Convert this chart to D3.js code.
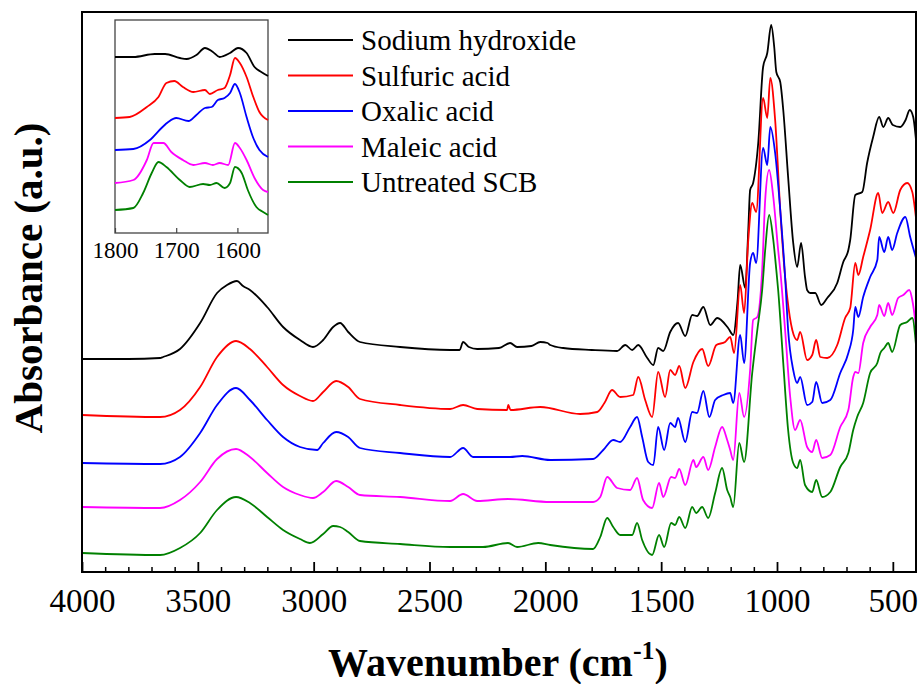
<!DOCTYPE html>
<html><head><meta charset="utf-8">
<script src="https://cdn.jsdelivr.net/npm/d3@7/dist/d3.min.js"></script>
<style>body{margin:0;background:#fff}svg{display:block}</style>
</head><body><svg id="c" width="921" height="684"></svg>
<script>
// ---------- DATA ----------
const seriesNames = ["Sodium hydroxide","Sulfuric acid","Oxalic acid","Maleic acid","Untreated SCB"];
const seriesColors = ["#000000","#ff0000","#0000ff","#ff00ff","#008000"];
const xTicksMajor = [4000,3500,3000,2500,2000,1500,1000,500];
const insetTicks = [1800,1700,1600];

const sodiumHydroxide = [[4000,21.3],[3800,21.3],[3663,21.4],[3650,21.5],[3577,22.3],[3490,24.9],[3417,27.9],[3374,28.7],[3331,29.1],[3305,28.6],[3275,28.2],[3201,26.5],[3132,24.5],[3059,23.2],[3003,22.5],[2959,23.2],[2916,24.5],[2886,24.9],[2851,24.0],[2800,23.0],[2627,22.5],[2411,22.2],[2370,22.2],[2355,23.0],[2330,22.5],[2294,22.3],[2200,22.4],[2152,22.9],[2122,22.5],[2060,22.6],[2022,23.0],[1990,22.9],[1979,22.7],[1923,22.4],[1800,22.2],[1690,22.1],[1655,22.7],[1625,22.2],[1599,22.7],[1560,21.4],[1534,20.7],[1513,22.4],[1491,22.1],[1461,24.0],[1427,24.9],[1396,23.6],[1366,25.7],[1345,25.6],[1318,26.5],[1288,24.7],[1258,25.4],[1211,24.4],[1189,23.7],[1170,27.2],[1159,30.7],[1137,28.4],[1124,34.2],[1116,38.2],[1103,38.9],[1081,42.9],[1060,50.5],[1042,51.9],[1025,54.7],[1012,52.5],[1003,50.0],[986,49.0],[973,46.2],[952,39.5],[930,32.9],[913,30.5],[896,32.9],[879,29.5],[870,28.2],[857,27.9],[835,27.9],[809,26.7],[783,27.4],[740,28.9],[714,31.0],[692,32.2],[684,33.2],[662,37.7],[632,38.0],[611,40.9],[585,43.5],[559,45.5],[541,44.5],[520,45.4],[500,44.7],[468,44.5],[445,45.2],[427,46.2],[412,45.5],[400,43.2]];

const sulfuricAcid = [[4000,15.7],[3663,15.5],[3577,16.2],[3490,18.5],[3417,21.5],[3335,23.1],[3275,22.3],[3201,20.5],[3132,18.7],[3059,17.6],[3003,17.1],[2959,18.0],[2903,19.1],[2851,18.5],[2800,17.3],[2627,16.7],[2411,16.3],[2355,16.7],[2294,16.3],[2165,16.2],[2160,16.7],[2150,16.2],[2022,16.5],[1850,15.8],[1776,16.0],[1745,16.9],[1712,18.2],[1677,17.5],[1621,17.7],[1599,19.5],[1569,17.2],[1539,15.5],[1513,20.0],[1483,17.5],[1461,20.2],[1440,19.7],[1422,20.6],[1396,18.4],[1361,21.0],[1323,22.3],[1297,20.6],[1262,22.7],[1224,23.0],[1202,23.5],[1185,21.9],[1159,28.7],[1142,25.9],[1124,33.2],[1107,36.9],[1090,36.0],[1060,47.4],[1042,45.4],[1029,49.4],[1008,45.2],[986,36.2],[965,29.5],[956,27.5],[934,24.2],[913,23.2],[900,24.0],[870,21.2],[848,21.7],[831,23.2],[813,21.5],[783,21.4],[740,22.7],[706,25.4],[684,26.4],[662,30.9],[649,29.7],[628,31.5],[598,34.2],[563,37.9],[546,35.9],[520,37.0],[498,35.9],[468,38.2],[438,38.9],[416,38.0],[400,35.4]];

const oxalicAcid = [[4000,10.9],[3663,10.8],[3577,11.5],[3490,13.9],[3417,16.7],[3335,18.4],[3275,17.2],[3201,15.2],[3132,13.5],[3059,12.5],[2985,12.2],[2959,12.9],[2903,14.0],[2851,13.5],[2800,12.4],[2627,11.9],[2411,11.5],[2355,12.4],[2312,11.5],[2152,11.5],[2100,11.6],[1979,11.2],[1794,11.3],[1750,12.2],[1707,13.2],[1677,13.0],[1634,14.5],[1604,15.5],[1582,13.5],[1556,11.0],[1534,10.7],[1513,14.5],[1487,12.2],[1461,14.9],[1440,14.5],[1427,15.4],[1396,13.0],[1366,16.0],[1345,15.9],[1318,18.1],[1292,15.5],[1267,17.2],[1232,17.7],[1202,17.9],[1189,16.9],[1159,23.7],[1142,20.9],[1116,30.9],[1103,31.9],[1090,30.9],[1060,42.4],[1042,40.7],[1029,44.5],[1008,41.9],[986,36.2],[965,29.5],[952,24.2],[930,20.2],[913,18.9],[900,19.5],[870,16.7],[848,17.0],[831,19.0],[805,16.9],[770,17.2],[727,19.9],[692,21.9],[671,24.2],[662,26.5],[649,25.5],[628,27.5],[598,29.5],[567,31.2],[559,33.5],[537,32.0],[520,33.5],[503,32.2],[481,33.9],[446,35.5],[425,33.5],[400,31.4]];

const maleicAcid = [[4000,6.5],[3663,6.4],[3577,7.2],[3490,9.0],[3417,11.3],[3335,12.3],[3275,11.5],[3201,9.9],[3132,8.5],[3059,7.7],[3003,7.4],[2959,8.0],[2903,9.1],[2851,8.5],[2800,7.7],[2627,7.5],[2411,7.1],[2355,7.8],[2294,7.1],[2161,7.3],[1979,7.0],[1794,7.0],[1763,7.5],[1733,9.5],[1690,8.4],[1634,8.2],[1604,9.4],[1578,7.2],[1539,6.4],[1509,8.9],[1491,7.5],[1457,9.5],[1440,9.4],[1422,10.3],[1396,8.7],[1361,11.2],[1349,10.5],[1318,11.5],[1297,10.2],[1267,12.5],[1237,14.5],[1215,13.2],[1202,12.2],[1189,11.2],[1163,17.9],[1142,15.5],[1116,20.2],[1103,25.2],[1085,25.5],[1064,30.2],[1051,37.2],[1034,40.2],[1016,37.5],[995,32.2],[986,30.2],[965,24.2],[943,17.5],[922,14.2],[900,15.2],[870,12.5],[848,12.0],[831,13.2],[805,11.4],[770,11.7],[727,14.5],[692,16.2],[671,19.5],[662,20.0],[649,19.9],[628,22.9],[598,24.5],[567,25.7],[559,26.7],[537,25.6],[520,26.9],[503,25.7],[477,27.4],[455,27.7],[429,28.2],[416,27.2],[400,24.5]];

const untreatedSCB = [[4000,1.9],[3663,1.7],[3577,2.4],[3490,3.9],[3417,6.2],[3335,7.5],[3275,6.9],[3201,5.5],[3132,4.2],[3059,3.3],[3016,2.9],[2959,3.8],[2916,4.6],[2886,4.5],[2851,4.0],[2800,3.1],[2627,2.8],[2411,2.5],[2269,2.5],[2161,2.9],[2122,2.5],[2031,2.9],[1979,2.7],[1794,2.3],[1763,3.5],[1733,5.4],[1707,4.5],[1677,3.7],[1625,3.7],[1604,4.9],[1582,3.2],[1539,1.7],[1509,3.7],[1487,2.5],[1457,4.9],[1440,4.7],[1422,5.5],[1396,4.4],[1366,6.5],[1349,5.9],[1323,6.5],[1297,5.4],[1267,7.9],[1237,10.4],[1215,8.2],[1202,7.5],[1189,6.5],[1163,12.9],[1142,11.0],[1107,19.9],[1085,24.2],[1064,28.2],[1051,32.2],[1034,35.7],[1016,33.2],[1003,30.2],[995,28.2],[973,20.9],[952,14.2],[930,10.9],[913,10.4],[900,11.2],[879,8.7],[848,8.0],[831,9.2],[805,7.5],[770,8.0],[727,10.5],[692,11.9],[671,14.2],[654,15.5],[628,16.9],[598,19.9],[567,20.9],[554,21.9],[537,22.4],[520,22.9],[503,22.0],[468,24.7],[438,25.0],[416,25.4],[400,22.7]];

// inset (1800-1550 cm-1), separately offset
const insetSodium = [[1800,17.6],[1770,17.6],[1735,17.9],[1718,17.9],[1694,17.5],[1683,17.4],[1667,17.8],[1653,18.5],[1640,18.1],[1629,17.6],[1612,18.0],[1599,18.5],[1585,18.0],[1572,16.6],[1561,16.1],[1550,15.7]];
const insetSulfuric = [[1800,11.5],[1776,11.6],[1748,12.6],[1729,13.6],[1716,15.0],[1703,15.2],[1689,14.6],[1672,14.1],[1653,14.3],[1645,13.9],[1632,14.3],[1621,14.5],[1612,15.8],[1604,17.5],[1596,17.0],[1585,15.6],[1574,13.6],[1564,12.1],[1550,11.3]];
const insetOxalic = [[1800,8.3],[1770,8.4],[1743,9.3],[1724,10.5],[1713,11.1],[1700,11.5],[1680,11.2],[1667,11.8],[1653,12.5],[1642,12.6],[1632,13.3],[1621,13.5],[1612,14.0],[1604,14.9],[1596,14.0],[1585,11.6],[1574,9.5],[1564,8.3],[1550,7.6]];
const insetMaleic = [[1800,5.0],[1770,5.3],[1748,7.3],[1737,9.0],[1721,9.0],[1708,8.1],[1689,7.3],[1672,6.8],[1653,7.0],[1640,6.8],[1629,7.0],[1615,6.8],[1604,9.0],[1596,8.5],[1585,7.3],[1572,5.5],[1558,4.3],[1550,4.1]];
const insetUntreated = [[1800,2.3],[1770,2.5],[1754,4.0],[1740,6.0],[1729,7.1],[1716,6.6],[1694,5.3],[1678,4.6],[1656,4.9],[1645,4.8],[1634,5.0],[1621,4.5],[1612,5.0],[1604,6.6],[1593,6.0],[1583,4.3],[1569,2.6],[1558,2.1],[1550,1.8]];

// ---------- DRAW ----------
const FONT = "'Liberation Serif', 'Times New Roman', Times, serif";
const svg = d3.select("#c").attr("font-family", FONT);
const L = 82, R = 916, T = 12, B = 572;
const x = d3.scaleLinear().domain([4000,400]).range([L,R]);
const y = d3.scaleLinear().domain([0,56]).range([B,T]);
const mainSeries = [sodiumHydroxide,sulfuricAcid,oxalicAcid,maleicAcid,untreatedSCB];
const insetSeries = [insetSodium,insetSulfuric,insetOxalic,insetMaleic,insetUntreated];

svg.append("defs").append("clipPath").attr("id","clipMain")
  .append("rect").attr("x",L).attr("y",T).attr("width",R-L).attr("height",B-T);

const line = d3.line().x(d=>x(d[0])).y(d=>y(d[1])).curve(d3.curveMonotoneX);
const gLines = svg.append("g").attr("clip-path","url(#clipMain)");
mainSeries.forEach((s,i)=>{
  gLines.append("path").datum(s).attr("d",line).attr("fill","none")
    .attr("stroke",seriesColors[i]).attr("stroke-width",1.8).attr("stroke-linejoin","round");
});

// bottom axis with inward ticks
const minorTicks = d3.range(3900,400,-100).filter(v=>v%500!==0);
const gx = svg.append("g").attr("transform",`translate(0,${B})`);
gx.call(d3.axisBottom(x).tickValues(xTicksMajor).tickSize(-10).tickPadding(0).tickFormat(d3.format("d")));
gx.attr("font-family", FONT).attr("font-size", 33);
gx.select(".domain").remove();
gx.selectAll(".tick line").attr("stroke","#000").attr("stroke-width",1.8);
gx.selectAll(".tick text").attr("fill","#000").attr("dy",null).attr("y",40)
  .attr("font-family",FONT).attr("font-size",33);
const gxm = svg.append("g").attr("transform",`translate(0,${B})`);
gxm.call(d3.axisBottom(x).tickValues(minorTicks).tickSize(-5).tickFormat(""));
gxm.select(".domain").remove();
gxm.selectAll(".tick line").attr("stroke","#000").attr("stroke-width",1.5);

// frame
svg.append("rect").attr("x",L).attr("y",T).attr("width",R-L).attr("height",B-T)
  .attr("fill","none").attr("stroke","#000").attr("stroke-width",2);

// axis titles
const xt = svg.append("text").attr("x",498).attr("y",676).attr("text-anchor","middle")
  .attr("font-family",FONT).attr("font-size",40).attr("font-weight","bold");
xt.append("tspan").text("Wavenumber (cm");
xt.append("tspan").attr("font-size",26).attr("dy",-17).text("-1");
xt.append("tspan").attr("dy",17).text(")");
svg.append("text").attr("transform","translate(42,278) rotate(-90)").attr("text-anchor","middle")
  .attr("font-family",FONT).attr("font-size",41).attr("font-weight","bold").text("Absorbance (a.u.)");

// legend
const legY0 = 40, legDy = 35.5;
seriesNames.forEach((n,i)=>{
  const yy = legY0 + i*legDy;
  svg.append("line").attr("x1",288).attr("x2",353).attr("y1",yy).attr("y2",yy)
    .attr("stroke",seriesColors[i]).attr("stroke-width",2);
  svg.append("text").attr("x",361).attr("y",yy+10).attr("font-family",FONT).attr("font-size",29).text(n);
});

// inset
const iL = 115, iR = 268, iT = 20, iB = 233;
const xi = d3.scaleLinear().domain([1800,1550]).range([iL,iR]);
const yi = d3.scaleLinear().domain([0,21.3]).range([iB,iT]);
svg.append("rect").attr("x",iL).attr("y",iT).attr("width",iR-iL).attr("height",iB-iT)
  .attr("fill","#fff").attr("stroke","#444").attr("stroke-width",1.3);
const lineI = d3.line().x(d=>xi(d[0])).y(d=>yi(d[1])).curve(d3.curveMonotoneX);
insetSeries.forEach((s,i)=>{
  svg.append("path").datum(s).attr("d",lineI).attr("fill","none")
    .attr("stroke",seriesColors[i]).attr("stroke-width",1.8);
});
const gi = svg.append("g").attr("transform",`translate(0,${iB})`);
gi.call(d3.axisBottom(xi).tickValues(insetTicks).tickSize(-5).tickPadding(0).tickFormat(d3.format("d")));
gi.attr("font-family", FONT).attr("font-size", 23);
gi.select(".domain").remove();
gi.selectAll(".tick line").attr("stroke","#444").attr("stroke-width",1.2);
gi.selectAll(".tick text").attr("fill","#000").attr("dy",null).attr("y",25)
  .attr("font-family",FONT).attr("font-size",23);
</script></body></html>
